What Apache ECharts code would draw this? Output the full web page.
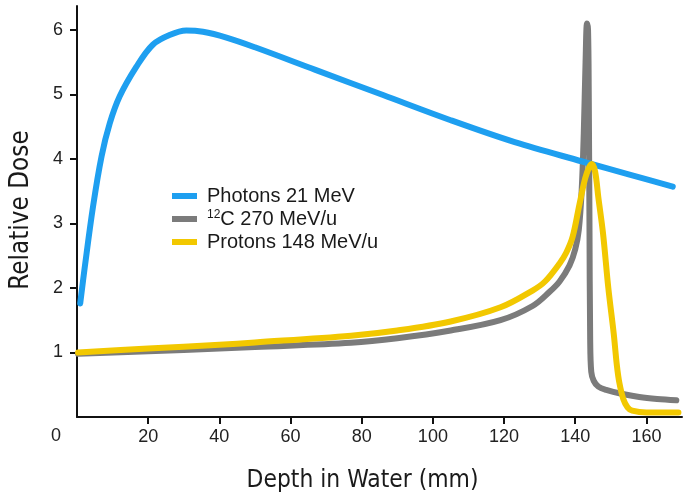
<!DOCTYPE html>
<html>
<head>
<meta charset="utf-8">
<script src="https://cdn.jsdelivr.net/npm/echarts@6/dist/echarts.min.js"></script>
<style>html,body{margin:0;padding:0;background:#fff}#c{width:686px;height:503px}</style>
</head>
<body>
<div id="c"></div>
<script>
// ---- data (depth in mm, relative dose) ----
const seriesNames = ['Photons 21 MeV', '12C 270 MeV/u', 'Protons 148 MeV/u'];
const xTicks = [20, 40, 60, 80, 100, 120, 140, 160];
const yTicks = [1, 2, 3, 4, 5, 6];

const photons = [
  [0.9,1.76],[2.2,2.33],[4.5,3.26],[6.9,4.04],[9.2,4.55],[12,4.97],[16.7,5.43],
  [21.3,5.77],[26,5.92],[30.7,5.99],[35.4,5.97],[42,5.88],[50,5.73],[67,5.38],
  [86,4.99],[105,4.60],[123,4.26],[142,3.96],[155,3.76],[167.4,3.57]
];
const carbon = [
  [0.3,0.98],[20,1.02],[40,1.06],[50,1.085],[77,1.15],[90,1.22],[105,1.34],[119,1.50],
  [128,1.72],[132.8,1.94],[135.6,2.1],[138.4,2.35],[140,2.6],[141,2.9],[141.8,3.5],
  [142.4,4.4],[142.9,5.5],[143.3,6.1],[143.6,6.0],[143.8,5.0],[144.0,3.0],[144.2,1.2],
  [144.5,0.7],[145.2,0.56],[146.5,0.47],[148.7,0.42],[153,0.36],[158,0.31],[163,0.28],[168.4,0.26]
];
const protons = [
  [0.3,1.0],[20,1.06],[40,1.12],[50,1.155],[77,1.26],[90,1.34],[105,1.48],[119,1.70],
  [128,1.96],[131.5,2.1],[135.6,2.38],[137.5,2.55],[139.3,2.8],[141.2,3.3],[142.8,3.7],
  [144,3.88],[144.7,3.92],[145.6,3.8],[146.5,3.4],[147.8,2.85],[149.3,2.0],[150.8,1.3],
  [151.7,0.8],[152.4,0.53],[153.5,0.28],[154.7,0.15],[156,0.1],[160,0.07],[169,0.07]
];
const colors = ['#1e9ff0', '#7b7b7b', '#f2c800'];

// ---- font helpers ----
function hasFont(name) {
  const ctx = document.createElement('canvas').getContext('2d');
  const s = 'Depth in Water (mm) Relative Dose';
  ctx.font = '30px monospace';
  const a = ctx.measureText(s).width;
  ctx.font = '30px "' + name + '", monospace';
  const b = ctx.measureText(s).width;
  return Math.abs(a - b) > 0.5;
}
function measure(font, s) {
  const ctx = document.createElement('canvas').getContext('2d');
  ctx.font = font;
  return ctx.measureText(s).width;
}
let titleFamily = 'Roboto';
if (hasFont('Liberation Sans Narrow')) titleFamily = 'Liberation Sans Narrow';
else if (hasFont('DejaVu Sans Condensed')) titleFamily = 'DejaVu Sans Condensed';
const xTitle = 'Depth in Water (mm)';
const yTitle = 'Relative Dose';
const w30 = measure('30px "' + titleFamily + '"', xTitle);
const xTitleSize = 30 * 232 / w30;
const wy30 = measure('30px "' + titleFamily + '"', yTitle);
const yTitleSize = Math.min(30 * 165 / wy30, xTitleSize * 1.06);

const labelFont = 'Liberation Sans, Arial, sans-serif';
const chart = echarts.init(document.getElementById('c'), null, {renderer: 'canvas'});

const seriesData = [photons, carbon, protons];
chart.setOption({
  animation: false,
  backgroundColor: '#fff',
  grid: {left: 77, right: 4, top: 6, bottom: 86, containLabel: false},
  legend: {
    orient: 'vertical',
    left: 172, top: 186,
    padding: 0,
    itemWidth: 25, itemHeight: 6, itemGap: 3,
    icon: 'rect',
    data: seriesNames,
    formatter: function (n) {
      if (n === '12C 270 MeV/u') return '{sup|12}{t|C 270 MeV/u}';
      return '{t|' + n + '}';
    },
    textStyle: {
      color: '#1a1a1a', fontFamily: labelFont, fontSize: 20, padding: [0,0,0,5],
      rich: {
        t: {fontFamily: labelFont, fontSize: 20, lineHeight: 20, color: '#1a1a1a', verticalAlign: 'middle'},
        sup: {fontFamily: labelFont, fontSize: 12, lineHeight: 12, color: '#1a1a1a', verticalAlign: 'top'}
      }
    }
  },
  xAxis: {
    type: 'value', min: 0, max: 170,
    axisLine: {show: true, onZero: false, lineStyle: {color: '#111', width: 2}},
    axisTick: {show: true, length: 7, lineStyle: {color: '#111', width: 2}, customValues: xTicks},
    axisLabel: {show: true, customValues: xTicks, margin: 11, color: '#222', fontFamily: labelFont, fontSize: 18},
    splitLine: {show: false}
  },
  yAxis: {
    type: 'value', min: 0, max: 6.37,
    axisLine: {show: true, onZero: false, lineStyle: {color: '#111', width: 2}},
    axisTick: {show: true, length: 7, lineStyle: {color: '#111', width: 2}, customValues: yTicks},
    axisLabel: {show: true, customValues: yTicks, margin: 14, color: '#222', fontFamily: labelFont, fontSize: 18},
    splitLine: {show: false}
  },
  graphic: [
    {type: 'text', left: 51, top: 427, style: {text: '0', fill: '#222', font: '18px Liberation Sans, Arial, sans-serif'}},
    {type: 'text', x: 362.5, y: 481, style: {text: xTitle, fill: '#1a1a1a', align: 'center', verticalAlign: 'middle',
      font: xTitleSize.toFixed(2) + 'px "' + titleFamily + '"'}},
    {type: 'text', x: 21, y: 210, rotation: Math.PI / 2, style: {text: yTitle, fill: '#1a1a1a', align: 'center', verticalAlign: 'middle',
      font: yTitleSize.toFixed(2) + 'px "' + titleFamily + '"'}}
  ],
  series: seriesNames.map(function (n, i) {
    return {
      name: n, type: 'line', data: seriesData[i], showSymbol: false, symbol: 'none',
      smooth: 0.35, clip: false,
      z: i === 0 ? 3 : (i === 1 ? 2 : 4),
      itemStyle: {color: colors[i]},
      lineStyle: {color: colors[i], width: 6, cap: 'round', join: 'round'}
    };
  })
});
</script>
</body>
</html>
